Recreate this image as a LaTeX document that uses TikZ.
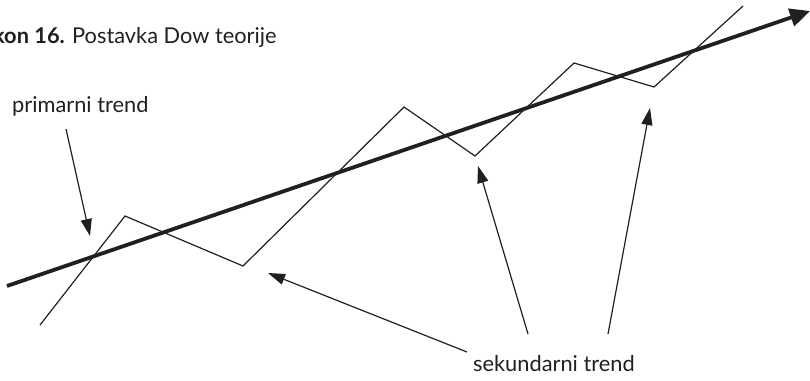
\documentclass[tikz,border=0pt]{standalone}
\usepackage{fontspec}
\setmainfont{Lato}
\usetikzlibrary{arrows.meta}

\definecolor{ink}{HTML}{231F20}

\tikzset{
  trend/.style={line width=3.8pt,color=ink,-{Triangle[length=20pt,width=18pt]}},
  price/.style={line width=1.2pt,color=ink,line join=miter},
  pointer/.style={line width=1.2pt,color=ink,-{Triangle[length=17pt,width=11pt]}},
  label/.style={anchor=base west,inner sep=0pt,text=ink,font=\fontsize{21.8}{24}\selectfont}
}

\begin{document}
\begin{tikzpicture}[x=1pt,y=-1pt]
  \useasboundingbox (0,0) rectangle (810,380);
  \clip (0,0) rectangle (810,380);

  % caption
  \node[label] (title) at (72,43) {Postavka Dow teorije};
  \node[label,anchor=base east,font=\fontsize{21.8}{24}\selectfont\bfseries] (num) at (65,43) {Grafikon 16.};

  % price path
  \coordinate (p0) at (40,325);
  \coordinate (p1) at (125,216);
  \coordinate (p2) at (243,266);
  \coordinate (p3) at (404,107);
  \coordinate (p4) at (475,156);
  \coordinate (p5) at (574,63);
  \coordinate (p6) at (654,87);
  \coordinate (p7) at (743,6);
  \draw[price] (p0) -- (p1) -- (p2) -- (p3) -- (p4) -- (p5) -- (p6) -- (p7);

  % primary trend
  \coordinate (t0) at (7,286);
  \coordinate (t1) at (810,11);
  \draw[trend] (t0) -- (t1);

  % labels
  \node[label] (prim) at (12,112) {primarni trend};
  \node[label] (sek) at (473,371) {sekundarni trend};

  \coordinate (a0) at (66,129);
  \coordinate (h0) at (90,236);
  \draw[pointer] (a0) -- (h0);

  \coordinate (a1) at (467,352);
  \coordinate (h1) at (268,273);
  \coordinate (a2) at (528,334);
  \coordinate (h2) at (478,166);
  \coordinate (a3) at (608,334);
  \coordinate (h3) at (650,108);
  \draw[pointer] (a1) -- (h1);
  \draw[pointer] (a2) -- (h2);
  \draw[pointer] (a3) -- (h3);
\end{tikzpicture}
\end{document}
